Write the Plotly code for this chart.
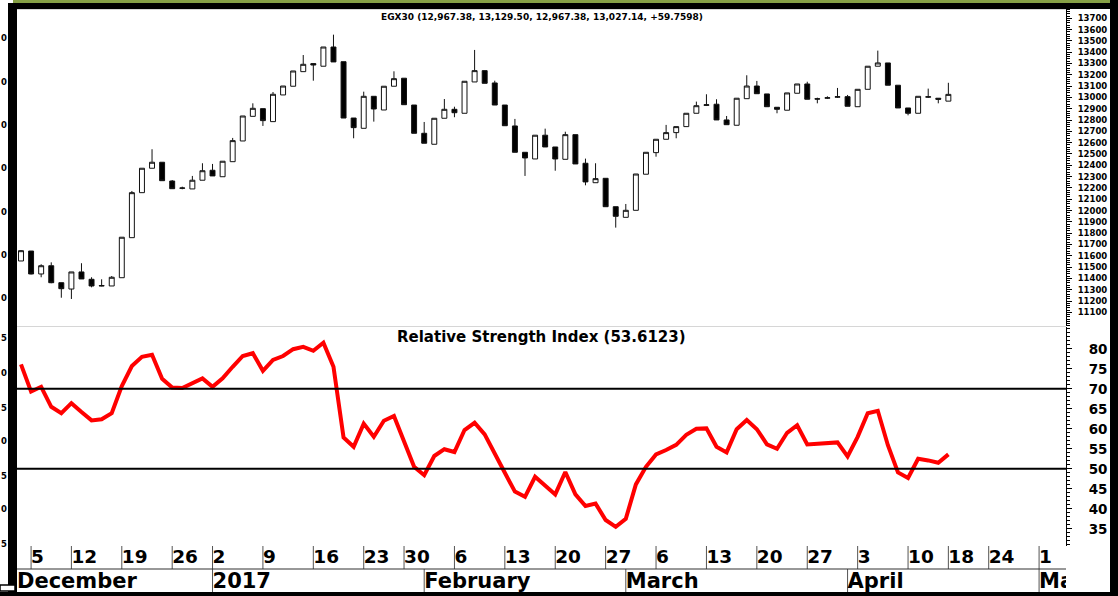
import plotly.graph_objects as go

# ---------------- data ----------------
bar_index = list(range(93))

opens = [11554, 11642, 11439, 11512, 11362, 11306, 11457, 11392, 11333, 11333,
         11406, 11760, 12158, 12374, 12427, 12261, 12197, 12191, 12268, 12356,
         12299, 12432, 12615, 12833, 12901, 12786, 13022, 13099, 13228, 13299,
         13276, 13446, 13316, 12818, 12727, 13010, 12889, 13099, 13170, 12933,
         12683, 12586, 12816, 12895, 12860, 13137, 13237, 13128, 12933, 12748,
         12515, 12456, 12666, 12562, 12453, 12671, 12418, 12246, 12285, 12034,
         11940, 12002, 12321, 12512, 12630, 12689, 12742, 12860, 12930, 12940,
         12801, 12754, 12989, 13101, 13031, 12913, 12887, 13037, 13119, 12988,
         12993, 13002, 13007, 12918, 13072, 13276, 13305, 13108, 12907, 12860,
         13002, 12993, 12967.38]
highs = [11651, 11642, 11525, 11542, 11362, 11457, 11534, 11410, 11392, 11421,
         11764, 12173, 12374, 12542, 12427, 12270, 12211, 12306, 12418, 12412,
         12436, 12642, 12836, 12948, 12901, 13048, 13101, 13234, 13375, 13299,
         13446, 13555, 13316, 12818, 13051, 13010, 13099, 13231, 13170, 12933,
         12783, 12816, 12986, 12918, 13143, 13420, 13237, 13148, 12933, 12810,
         12515, 12666, 12724, 12562, 12697, 12671, 12459, 12418, 12285, 12034,
         12058, 12323, 12515, 12630, 12757, 12742, 12860, 12963, 13028, 12984,
         12836, 12993, 13196, 13146, 13031, 12913, 13040, 13119, 13139, 12998,
         13010, 13084, 13022, 13072, 13276, 13414, 13305, 13108, 12907, 13010,
         13078, 12993, 13129.50]
lows = [11554, 11435, 11410, 11357, 11229, 11218, 11395, 11321, 11330, 11333,
        11406, 11760, 12158, 12374, 12264, 12193, 12188, 12191, 12268, 12306,
        12299, 12432, 12615, 12833, 12748, 12786, 13022, 13099, 13228, 13148,
        13276, 13314, 12818, 12639, 12727, 12786, 12889, 13099, 12936, 12683,
        12595, 12586, 12816, 12825, 12860, 13137, 13125, 12933, 12750, 12515,
        12306, 12456, 12562, 12352, 12453, 12412, 12223, 12246, 12034, 11849,
        11940, 12002, 12321, 12476, 12630, 12639, 12742, 12860, 12924, 12801,
        12759, 12754, 12989, 13033, 12918, 12860, 12887, 13037, 12984, 12948,
        12986, 12995, 12922, 12918, 13072, 13276, 13108, 12907, 12842, 12860,
        12995, 12948, 12967.38]
closes = [11645, 11439, 11512, 11362, 11309, 11457, 11395, 11333, 11336, 11410,
          11764, 12158, 12374, 12427, 12264, 12193, 12199, 12268, 12352, 12306,
          12436, 12618, 12836, 12904, 12795, 13028, 13101, 13234, 13293, 13287,
          13446, 13314, 12818, 12733, 13010, 12898, 13099, 13166, 12936, 12683,
          12595, 12816, 12895, 12865, 13143, 13237, 13125, 12933, 12750, 12515,
          12465, 12666, 12562, 12456, 12671, 12412, 12253, 12282, 12034, 11949,
          12002, 12323, 12515, 12630, 12689, 12742, 12860, 12927, 12935, 12801,
          12759, 12993, 13101, 13033, 12918, 12895, 13040, 13119, 12984, 12986,
          12997, 13006, 12922, 13072, 13276, 13305, 13108, 12907, 12860, 13010,
          13006, 12984, 13027.14]

rsi = [76.1, 69.3, 70.5, 65.5, 63.9, 66.4, 64.2, 62.1, 62.4, 63.9,
       70.7, 75.7, 78.0, 78.5, 72.5, 70.3, 70.2, 71.4, 72.6, 70.5,
       72.6, 75.5, 78.2, 78.9, 74.5, 77.2, 78.2, 79.9, 80.5, 79.5,
       81.5, 75.5, 57.8, 55.5, 61.3, 58.0, 62.0, 63.2, 56.5, 50.5,
       48.4, 53.2, 54.9, 54.2, 59.7, 61.5, 58.6, 53.6, 49.0, 44.3,
       43.0, 48.0, 45.9, 43.6, 49.2, 43.6, 40.7, 41.3, 37.2, 35.5,
       37.5, 46.1, 50.5, 53.6, 54.7, 56.0, 58.5, 60.0, 60.1, 55.5,
       54.1, 59.9, 62.2, 59.9, 56.1, 55.0, 59.0, 60.9, 56.1, 56.3,
       56.5, 56.6, 53.1, 58.0, 63.9, 64.5, 55.9, 49.1, 47.7, 52.5,
       52.1, 51.5, 53.6]

day_tick_pos = [1, 5, 10, 15, 19, 24, 29, 34, 38, 43, 48, 53, 58, 63, 68, 73, 78, 83, 88, 92, 96, 101]
day_tick_text = ["5", "12", "19", "26", "2", "9", "16", "23", "30", "6", "13", "20", "27",
                 "6", "13", "20", "27", "3", "10", "18", "24", "1"]
month_pos = [-0.4, 19, 40, 60, 82, 101]
month_text = ["December", "2017", "February", "March", "April", "May"]
month_sep_pos = [19, 40, 60, 82, 101]

rsi_levels = [70, 50]
price_title = "EGX30 (12,967.38, 13,129.50, 12,967.38, 13,027.14, +59.7598)"
rsi_title = "Relative Strength Index (53.6123)"
left_price_text = ["0", "0", "0", "0", "0", "0", "0"]
left_rsi_text = ["5", "0", "5", "0", "5", "0", "5"]

# ---------------- geometry ----------------
W, H = 1118, 596
ML, MR, MT, MB = 17, 52, 9, 4
PW = W - ML - MR
PH = H - MT - MB


def px_x(px):
    return (px - ML) / PW


def px_y(py):
    return (H - MB - py) / PH


XR = [-0.397, 103.67]
FONT = "DejaVu Sans"

fig = go.Figure()

fig.add_trace(go.Candlestick(
    x=bar_index, open=opens, high=highs, low=lows, close=closes,
    increasing=dict(line=dict(color="#111111", width=1), fillcolor="white"),
    decreasing=dict(line=dict(color="#111111", width=1), fillcolor="black"),
    whiskerwidth=0, xaxis="x", yaxis="y", showlegend=False, hoverinfo="skip"))

fig.add_trace(go.Scatter(
    x=bar_index, y=rsi, mode="lines", line=dict(color="#ff0000", width=4),
    xaxis="x2", yaxis="y2", showlegend=False, hoverinfo="skip"))

# date axis panel
tx, ty = [], []
for p in day_tick_pos:
    tx += [p, p, None]
    ty += [23, 46, None]
fig.add_trace(go.Scatter(x=tx, y=ty, mode="lines", line=dict(color="#555555", width=1),
                         xaxis="x3", yaxis="y3", showlegend=False, hoverinfo="skip"))
mx, my = [], []
for p in month_sep_pos:
    mx += [p, p, None]
    my += [0, 23, None]
fig.add_trace(go.Scatter(x=mx, y=my, mode="lines", line=dict(color="#555555", width=1),
                         xaxis="x3", yaxis="y3", showlegend=False, hoverinfo="skip"))
fig.add_trace(go.Scatter(
    x=day_tick_pos, y=[33.5] * len(day_tick_pos), mode="text", text=day_tick_text,
    textposition="middle right", marker=dict(size=1),
    textfont=dict(family=FONT, size=18.5, color="black", weight="bold"),
    xaxis="x3", yaxis="y3", showlegend=False, hoverinfo="skip", cliponaxis=True))
fig.add_trace(go.Scatter(
    x=month_pos, y=[9] * len(month_pos), mode="text", text=month_text,
    textposition="middle right", marker=dict(size=1),
    textfont=dict(family=FONT, size=21, color="black", weight="bold"),
    xaxis="x3", yaxis="y3", showlegend=False, hoverinfo="skip", cliponaxis=True))

shapes = []
for lv in rsi_levels:
    shapes.append(dict(type="line", xref="paper", yref="y2", x0=0, x1=1, y0=lv, y1=lv,
                       line=dict(color="black", width=2)))
shapes.append(dict(type="line", xref="paper", yref="y3", x0=0, x1=1, y0=23, y1=23,
                   line=dict(color="#333333", width=1.2)))
# panel separators
shapes.append(dict(type="line", xref="paper", yref="paper", x0=0, x1=1,
                   y0=px_y(326.5), y1=px_y(326.5), line=dict(color="#d6d6d6", width=1)))
shapes.append(dict(type="line", xref="paper", yref="paper", x0=0, x1=1,
                   y0=px_y(9.5), y1=px_y(9.5), line=dict(color="#d6d6d6", width=1)))


# frame
def rect(x0, y0, x1, y1, color, line=None):
    return dict(type="rect", xref="paper", yref="paper", x0=px_x(x0), x1=px_x(x1),
                y0=px_y(y1), y1=px_y(y0), fillcolor=color, layer="above",
                line=dict(width=0) if line is None else line)


shapes.append(rect(13, 0, 1118, 3, "#86a046"))
shapes.append(rect(8, 3, 1118, 9, "black"))
shapes.append(rect(8, 3, 17, 596, "black"))
shapes.append(rect(1110, 0, 1118, 596, "black"))
shapes.append(rect(0, 592, 1118, 596, "black"))
shapes.append(rect(0, 585, 15, 591, "white", dict(color="black", width=1.5)))

annotations = [
    dict(text=price_title, xref="paper", yref="paper", x=0.5, y=px_y(17.5),
         showarrow=False, xanchor="center", yanchor="middle",
         font=dict(family=FONT, size=9, color="black", weight="bold")),
    dict(text=rsi_title, xref="paper", yref="paper", x=0.5, y=px_y(337),
         showarrow=False, xanchor="center", yanchor="middle",
         font=dict(family=FONT, size=15, color="black", weight="bold")),
]
left_price_y = [38.3, 82.3, 125, 168.3, 211.7, 255, 297.7]
for yy, t in zip(left_price_y, left_price_text):
    annotations.append(dict(text=t, xref="paper", yref="paper", x=px_x(3.8), y=px_y(yy),
                            showarrow=False, xanchor="center", yanchor="middle",
                            font=dict(family=FONT, size=8.5, color="black", weight="bold")))
left_rsi_y = [337.7, 372.7, 407.7, 441, 476, 509.3, 544.3]
for yy, t in zip(left_rsi_y, left_rsi_text):
    annotations.append(dict(text=t, xref="paper", yref="paper", x=px_x(3.8), y=px_y(yy),
                            showarrow=False, xanchor="center", yanchor="middle",
                            font=dict(family=FONT, size=8.5, color="black", weight="bold")))

axis_common = dict(showgrid=False, zeroline=False, showline=True, linecolor="black",
                   linewidth=1, ticks="outside", tickcolor="black", side="right", mirror=False)

fig.update_layout(
    width=W, height=H, margin=dict(l=ML, r=MR, t=MT, b=MB, pad=0),
    paper_bgcolor="white", plot_bgcolor="white",
    xaxis=dict(domain=[0, 1], range=XR, visible=False, anchor="y",
               rangeslider=dict(visible=False)),
    yaxis=dict(domain=[px_y(326), 1], range=[10979, 13782], anchor="x",
               ticklen=5, tickwidth=1, tickformat="d",
               tickvals=list(range(11100, 13800, 100)),
               minor=dict(ticks="outside", ticklen=3, dtick=20, tickcolor="black", tick0=11000),
               tickfont=dict(family=FONT, size=8.5, color="black", weight="bold"),
               ticklabelstandoff=4, **axis_common),
    xaxis2=dict(domain=[0, 1], range=XR, visible=False, anchor="y2"),
    yaxis2=dict(domain=[px_y(546), px_y(327)], range=[30.7, 85.45], anchor="x2",
                tickvals=list(range(35, 85, 5)), ticklen=5, tickwidth=1, tickformat="d",
                minor=dict(ticks="outside", ticklen=3, dtick=1, tickcolor="black", tick0=30),
                tickfont=dict(family=FONT, size=13.5, color="black", weight="bold"),
                ticklabelstandoff=14, **axis_common),
    xaxis3=dict(domain=[0, 1], range=XR, visible=False, anchor="y3"),
    yaxis3=dict(domain=[0, px_y(546)], range=[0, 46], visible=False, anchor="x3"),
    shapes=shapes, annotations=annotations, showlegend=False,
)

fig.write_html("out.html", config={"displayModeBar": False},
               post_script="document.body.style.margin='0';document.body.style.padding='0';"
                           "document.body.style.overflow='hidden';"
                           "document.documentElement.style.overflow='hidden';")
